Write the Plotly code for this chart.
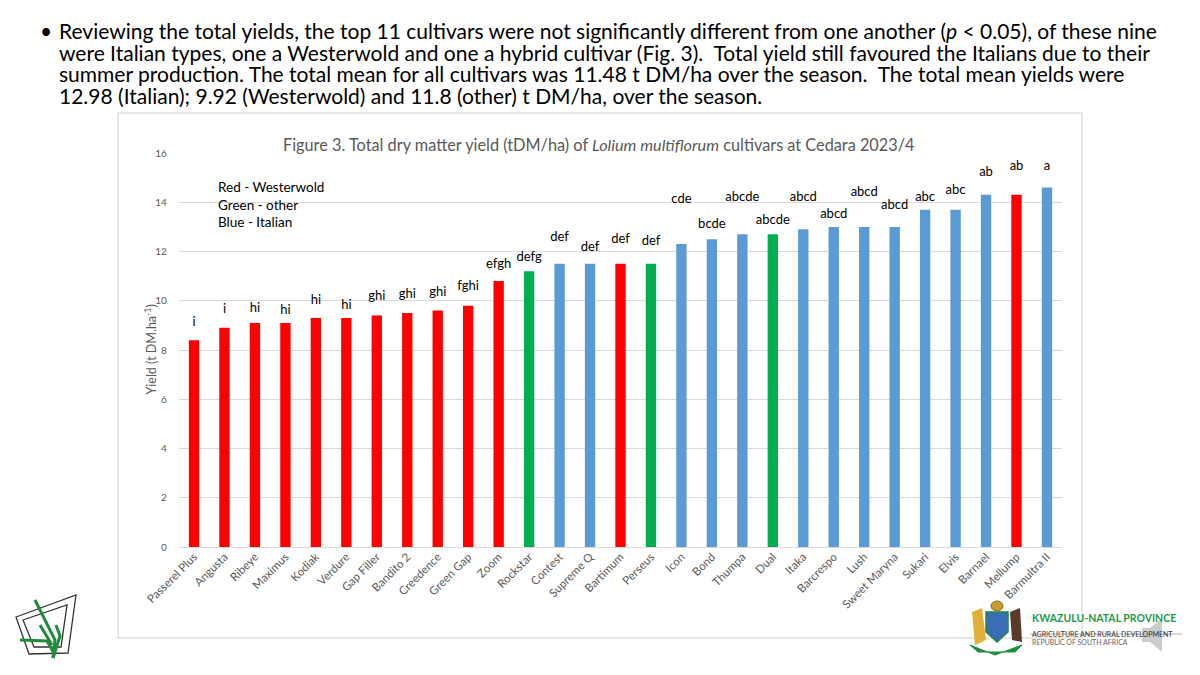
import plotly.graph_objects as go

W, H = 1200, 675
OFF = 8  # page body margin pushes the figure 8 px right and down

# ── data ──────────────────────────────────────────────────────────────────────
cultivars = ["Passerel Plus", "Angusta", "Ribeye", "Maximus", "Kodiak", "Verdure",
             "Gap Filler", "Bandito 2", "Creedence", "Green Gap", "Zoom", "Rockstar",
             "Contest", "Supreme Q", "Bartimum", "Perseus", "Icon", "Bond", "Thumpa",
             "Dual", "Itaka", "Barcrespo", "Lush", "Sweet Maryna", "Sukari", "Elvis",
             "Barnael", "Mellump", "Barmultra II"]
yields = [8.4, 8.9, 9.1, 9.1, 9.3, 9.3, 9.4, 9.5, 9.6, 9.8, 10.8, 11.2,
          11.5, 11.5, 11.5, 11.5, 12.3, 12.5, 12.7, 12.7, 12.9, 13.0, 13.0, 13.0,
          13.7, 13.7, 14.3, 14.3, 14.6]
types = ["W", "W", "W", "W", "W", "W", "W", "W", "W", "W", "W", "O",
         "I", "I", "W", "O", "I", "I", "I", "O", "I", "I", "I", "I",
         "I", "I", "I", "W", "I"]
letters = ["i", "i", "hi", "hi", "hi", "hi", "ghi", "ghi", "ghi", "fghi", "efgh", "defg",
           "def", "def", "def", "def", "cde", "bcde", "abcde", "abcde", "abcd", "abcd",
           "abcd", "abcd", "abc", "abc", "ab", "ab", "a"]
# where each letter group sits (y, in t DM/ha), as placed on the slide
letter_y = [9.1, 9.63, 9.67, 9.6, 10.0, 9.8, 10.15, 10.24, 10.33, 10.57, 11.46, 11.74,
            12.55, 12.15, 12.47, 12.4, 14.1, 13.08, 14.17, 13.24, 14.17, 13.5,
            14.4, 13.85, 14.2, 14.45, 15.2, 15.43, 15.43]
y_ticks = [0, 2, 4, 6, 8, 10, 12, 14, 16]

type_colors = {"W": "#FF0000", "O": "#00B050", "I": "#5B9BD5"}
GREY = "#595959"
FONT = "Lato"


def px(x):
    return (x - OFF) / W


def py(y):
    return 1 - (y - OFF) / H


fig = go.Figure()
fig.add_bar(x=cultivars, y=yields, width=0.34,
            marker_color=[type_colors[t] for t in types], marker_line_width=0,
            hoverinfo="x+y")
fig.add_scatter(x=cultivars, y=letter_y, mode="text", text=letters,
                textfont=dict(family=FONT, size=13, color="#000000"),
                hoverinfo="skip")

fig.update_layout(
    width=W, height=H, margin=dict(l=0, r=0, t=0, b=0),
    paper_bgcolor="white", plot_bgcolor="white", showlegend=False,
    font=dict(family=FONT, color=GREY),
    xaxis=dict(domain=[px(178.8), px(1062.2)], range=[-0.5, 28.5], automargin=False,
               tickangle=-45, tickfont=dict(size=11.5, color=GREY),
               showgrid=False, showline=False, ticks="", zeroline=False),
    yaxis=dict(domain=[py(547), py(153)], range=[0, 16], tickvals=y_ticks,
               automargin=False,
               tickfont=dict(size=10, color=GREY), showgrid=True,
               gridcolor="#D9D9D9", gridwidth=1, zeroline=True,
               zerolinecolor="#D9D9D9", zerolinewidth=1, showline=False,
               ticks="outside", ticklen=9, tickcolor="rgba(0,0,0,0)"),
)

# ── chart frame, title, axis title, colour key ───────────────────────────────
fig.add_shape(type="rect", xref="paper", yref="paper",
              x0=px(118), x1=px(1082), y0=py(638), y1=py(113),
              line=dict(color="#D0D0D0", width=1), layer="below")

fig.add_annotation(xref="paper", yref="paper", x=px(599), y=py(133),
                   text="Figure 3. Total dry matter yield (tDM/ha) of <i>Lolium multiflorum</i> "
                        "cultivars at Cedara 2023/4",
                   showarrow=False, font=dict(size=16.3, color=GREY))
fig.add_annotation(xref="paper", yref="paper", x=px(139), y=py(350),
                   text="Yield (t DM.ha<sup>-1</sup>)", textangle=-90,
                   showarrow=False, font=dict(size=12.5, color=GREY))
fig.add_annotation(xref="paper", yref="paper", x=px(216), y=py(177),
                   xanchor="left", yanchor="top", align="left",
                   text="Red - Westerwold<br>Green - other<br>Blue - Italian",
                   showarrow=False, font=dict(size=13.5, color="#000000"))

# ── slide text ────────────────────────────────────────────────────────────────
lines = [
    "Reviewing the total yields, the top 11 cultivars were not significantly different "
    "from one another (<i>p</i> &lt; 0.05), of these nine",
    "were Italian types, one a Westerwold and one a hybrid cultivar (Fig. 3).\u00a0 Total yield "
    "still favoured the Italians due to their",
    "summer production. The total mean for all cultivars was 11.48 t DM/ha over the "
    "season.\u00a0 The total mean yields were",
    "12.98 (Italian); 9.92 (Westerwold) and 11.8 (other) t DM/ha, over the season.",
]
for i, line in enumerate(lines):
    fig.add_annotation(xref="paper", yref="paper", x=px(57), y=py(31 + 21.5 * i),
                       xanchor="left", yanchor="middle", text=line, showarrow=False,
                       font=dict(size=21, color="#000000"))
fig.add_annotation(xref="paper", yref="paper", x=px(38), y=py(31), text="\u2022",
                   yanchor="middle", showarrow=False, font=dict(size=21, color="#000000"))

# ── logos (rough) ─────────────────────────────────────────────────────────────
def path(points):
    return "M " + " L ".join(f"{px(a)},{py(b)}" for a, b in points) + " Z"


fig.add_shape(type="path", xref="paper", yref="paper",
              path=path([(16, 617), (76, 595), (68, 653), (29, 654)]),
              line=dict(color="#333333", width=1.3))
fig.add_shape(type="path", xref="paper", yref="paper",
              path=path([(23, 620), (67, 605), (61, 647), (34, 647)]),
              line=dict(color="#333333", width=1.3))
for seg in [[(35, 600), (55, 640), (53, 658)], [(40, 625), (52, 645)],
            [(20, 640), (47, 641), (55, 655)], [(56, 625), (60, 636), (53, 658)]]:
    fig.add_shape(type="path", xref="paper", yref="paper",
                  path="M " + " L ".join(f"{px(a)},{py(b)}" for a, b in seg),
                  line=dict(color="#1E8C3A", width=3))

fig.add_shape(type="path", xref="paper", yref="paper",
              path=path([(970, 645), (995, 655), (1022, 645), (1015, 652), (978, 652)]),
              fillcolor="#1E8C3A", line=dict(color="#1E8C3A", width=1))
fig.add_shape(type="path", xref="paper", yref="paper",
              path=path([(986, 612), (1008, 612), (1008, 632), (997, 642), (986, 632)]),
              fillcolor="#3A6DB5", line=dict(color="#1E8C3A", width=1.5))
fig.add_shape(type="circle", xref="paper", yref="paper",
              x0=px(991), x1=px(1003), y0=py(611), y1=py(601),
              fillcolor="#C99A2E", line=dict(color="#8A6A1E", width=1))
fig.add_shape(type="path", xref="paper", yref="paper",
              path=path([(972, 612), (982, 608), (986, 640), (975, 645)]),
              fillcolor="#E0B03A", line=dict(width=0))
fig.add_shape(type="path", xref="paper", yref="paper",
              path=path([(1010, 612), (1020, 608), (1022, 642), (1012, 640)]),
              fillcolor="#5A3A2A", line=dict(width=0))

fig.add_annotation(xref="paper", yref="paper", x=px(1030), y=py(626), xanchor="left",
                   text="<b>KWAZULU-NATAL PROVINCE</b>", showarrow=False,
                   font=dict(size=10.5, color="#1E9A4A"))
fig.add_shape(type="line", xref="paper", yref="paper", x0=px(1030), x1=px(1182),
              y0=py(634), y1=py(634), line=dict(color="#B0B0B0", width=1))
fig.add_annotation(xref="paper", yref="paper", x=px(1030), y=py(640), xanchor="left",
                   text="AGRICULTURE AND RURAL DEVELOPMENT", showarrow=False,
                   font=dict(size=7, color="#333333"))
fig.add_annotation(xref="paper", yref="paper", x=px(1030), y=py(648), xanchor="left",
                   text="REPUBLIC OF SOUTH AFRICA", showarrow=False,
                   font=dict(size=7, color="#666666"))
fig.add_shape(type="path", xref="paper", yref="paper",
              path=path([(1142, 628), (1150, 628), (1162, 618), (1162, 652), (1150, 642),
                         (1142, 642)]),
              fillcolor="rgba(170,170,170,0.6)", line=dict(width=0))

fig.write_html("out.html")
